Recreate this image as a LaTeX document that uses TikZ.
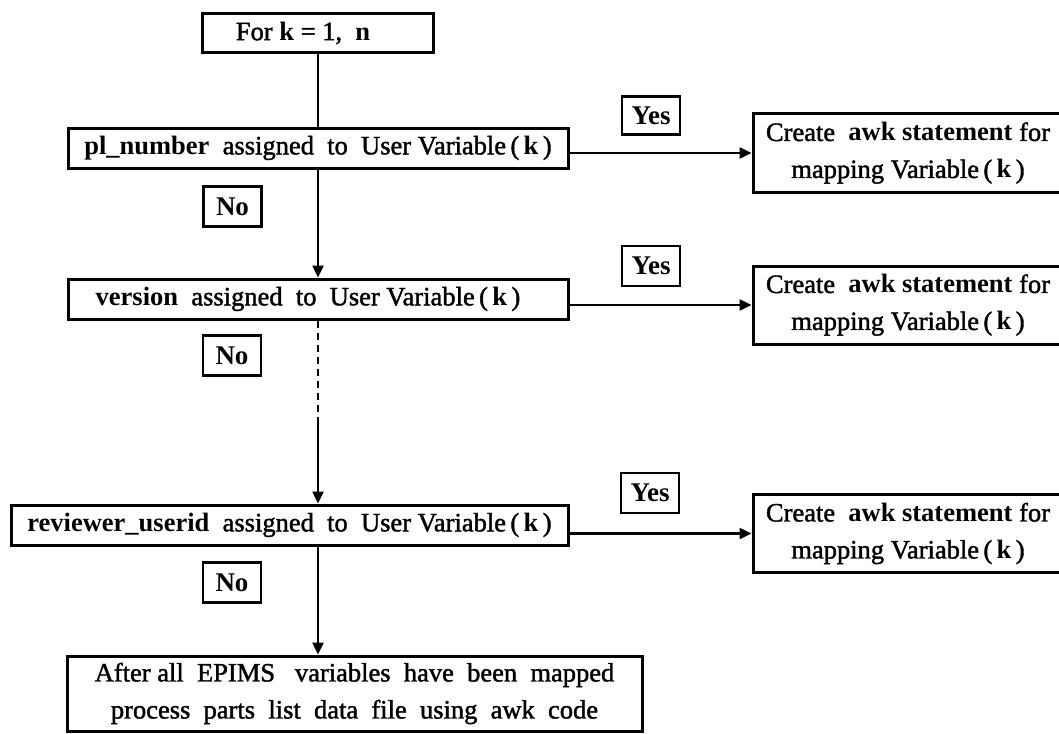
\documentclass[tikz,border=0pt]{standalone}
\usepackage{fontspec}
\setmainfont{Liberation Serif}[UprightFeatures={FakeBold=1.5}]
\usetikzlibrary{arrows.meta}
\tikzset{
  box/.style={draw, line width=3pt, inner sep=0pt, align=center, font=\fontsize{26.5}{37}\selectfont},
  lbl/.style={draw, line width=2.6pt, inner sep=0pt, minimum width=58pt, minimum height=40pt, font=\fontsize{27}{30}\selectfont\bfseries},
  conn/.style={line width=2.4pt},
  arr/.style={line width=2.4pt, -{Triangle[length=12pt,width=11pt]}},
}
\begin{document}
\begin{tikzpicture}[x=1pt,y=-1pt]
\useasboundingbox (0,0) rectangle (1059,733);
\clip (0,0) rectangle (1059,733);
\fill[white] (0,0) rectangle (1059,733);

\node[box, minimum width=231pt, minimum height=39pt] (for) at (318,33) {For \textbf{k} = 1,\ \ \textbf{n}\hspace{30pt}};
\node[box, minimum width=500pt, minimum height=40pt] (pl) at (318,148) {\textbf{pl\_number}\ \ assigned\ \ to\ \ User Variable\,(\,\textbf{k}\,)};
\node[box, minimum width=500pt, minimum height=40pt] (ver) at (318,299) {\textbf{version}\ \ assigned\ \ to\ \ User Variable\,(\,\textbf{k}\,)\hspace{20pt}};
\node[box, minimum width=557pt, minimum height=40pt] (rev) at (289.5,525) {\textbf{reviewer\_userid}\ \ assigned\ \ to\ \ User Variable\,(\,\textbf{k}\,)};
\node[box, minimum width=575pt, minimum height=75pt] (fin) at (354.5,693.5) {After all\ \ EPIMS\ \ \ variables\ \ have\ \ been\ \ mapped\\process\ \ parts\ \ list\ \ data\ \ file\ \ using\ \ awk\ \ code};

\node[box, minimum width=310pt, minimum height=78pt] (r1) at (908,153) {Create\ \ \textbf{awk statement} for\\mapping Variable\,(\,\textbf{k}\,)};
\node[box, minimum width=310pt, minimum height=78pt] (r2) at (908,305) {Create\ \ \textbf{awk statement} for\\mapping Variable\,(\,\textbf{k}\,)};
\node[box, minimum width=310pt, minimum height=78pt] (r3) at (908,533.5) {Create\ \ \textbf{awk statement} for\\mapping Variable\,(\,\textbf{k}\,)};

\node[lbl] (no1) at (232.5,206.5) {No};
\node[lbl] (no2) at (232,355.5) {No};
\node[lbl] (no3) at (232,582.5) {No};
\node[lbl, minimum height=38pt] (yes1) at (651,115.5) {Yes};
\node[lbl] (yes2) at (651,266) {Yes};
\node[lbl] (yes3) at (650,493) {Yes};

\coordinate (dashend) at (318,423);

\draw[conn] (for.south) -- (pl.north);
\draw[arr] (pl.south) -- (ver.north);
\draw[conn, dash pattern=on 7pt off 5pt] (ver.south) -- (dashend);
\draw[arr] (dashend) -- (dashend |- rev.north);
\draw[arr] (ver.south |- rev.south) -- (ver.south |- fin.north);

\draw[arr] (r1.west -| pl.east) -- (r1.west);
\draw[arr] (r2.west -| ver.east) -- (r2.west);
\draw[arr] (r3.west -| rev.east) -- (r3.west);
\end{tikzpicture}
\end{document}
